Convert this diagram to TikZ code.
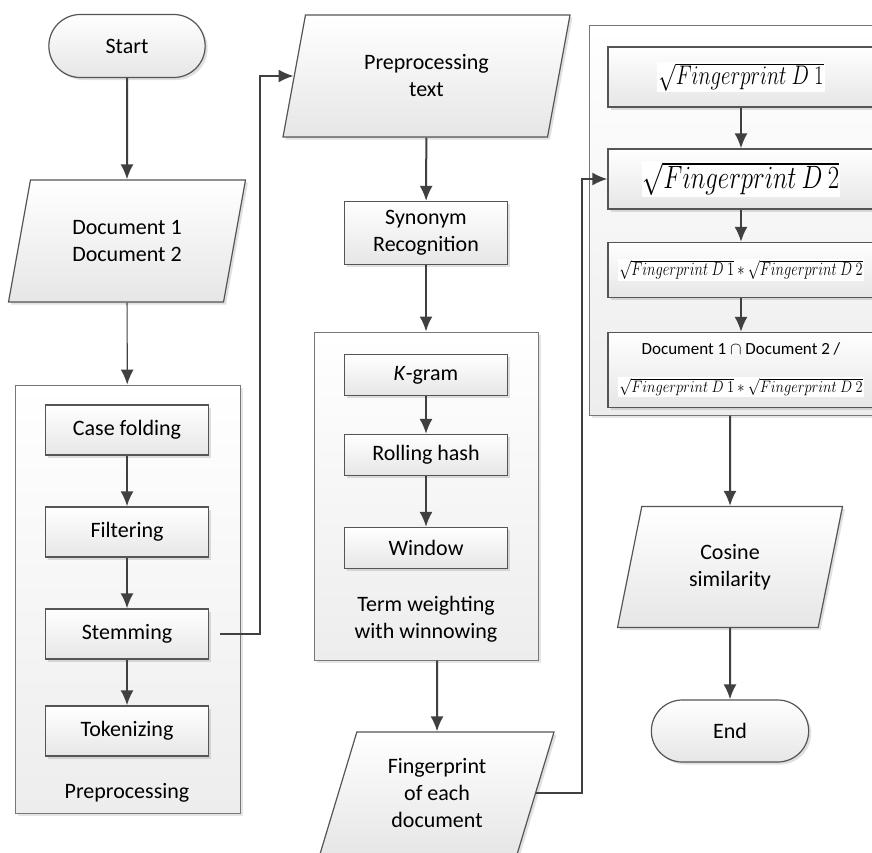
\documentclass[tikz,border=0pt]{standalone}
\usepackage[no-math]{fontspec}
\setmainfont{Carlito}
\usetikzlibrary{%
    arrows.meta,
    positioning,
    shapes.geometric,
    shapes.misc,
    shadows
}
\definecolor{linegray}{HTML}{404040}
\definecolor{boxline}{HTML}{555555}
\definecolor{boxfill}{HTML}{E6E6E6}
\definecolor{groupline}{HTML}{777777}
\definecolor{groupfill}{HTML}{EDEDED}
\setlength{\fboxsep}{1pt}
\newcommand{\fpterm}[1]{\colorbox{white}{\scalebox{1}[1.3]{$\sqrt{Fingerprint\ D\ #1}$}}}
\newcommand{\fpprod}[1][1.3]{\colorbox{white}{\scalebox{1}[#1]{$\sqrt{Fingerprint\ D\ 1}*\sqrt{Fingerprint\ D\ 2}$}}}
\tikzset{
    headarrow/.style = {-{Latex[length=15pt,width=13pt]}, draw=linegray, line width=2pt},
    shaded/.style = {draw=boxline, line width=1.2pt, top color=white, bottom color=boxfill,
        drop shadow={shadow xshift=2.5pt, shadow yshift=-2.5pt, fill=black, opacity=.12}},
    flowbox/.style = {shaded, rectangle, minimum width=163pt, inner sep=0pt, align=center},
    iobox/.style = {shaded, trapezium, trapezium left angle=62, trapezium right angle=118,
        trapezium stretches body, minimum height=122pt, inner sep=0pt, align=center},
    termbox/.style = {shaded, rounded rectangle, minimum width=163pt, minimum height=63pt},
    groupbox/.style = {draw=groupline, line width=1pt, top color=white, bottom color=groupfill,
        drop shadow={shadow xshift=2.5pt, shadow yshift=-2.5pt, fill=black, opacity=.10}},
    mathbox/.style = {flowbox, minimum width=266pt}
}

\begin{document}
\begin{tikzpicture}[x=1pt, y=-1pt, font=\fontsize{22}{27}\selectfont]
    \useasboundingbox (0,0) rectangle (872,852);

    % groups
    \node[groupbox, minimum width=225pt, minimum height=428pt] (prepgroup) at (127.5,599) {};
    \node[groupbox, minimum width=224pt, minimum height=328pt] (termgroup) at (426,496) {};
    \node[groupbox, minimum width=304pt, minimum height=390pt] (simgroup) at (741,220) {};

    \node[termbox] (start) at (127,46) {Start};
    \node[iobox, minimum width=237pt] (docs) at (127,241) {Document 1\\Document 2};
    \foreach \Name/\Y/\Text in {%
        fold/430/Case folding,
        filter/532/Filtering,
        stem/634/Stemming,
        token/731/Tokenizing}
            \node[flowbox, minimum height=50pt] (\Name) at (127,\Y) {\Text};
    \node (preplabel) at (127,793) {Preprocessing};

    \node[iobox, minimum width=287pt] (pretext) at (426.5,76) {Preprocessing\\text};
    \node[flowbox, minimum height=63pt] (synonym) at (426,233) {Synonym\\Recognition};
    \foreach \Name/\Y/\Text in {%
        kgram/375/{\textit{K}-gram},
        hash/455/Rolling hash,
        window/548/Window}
            \node[flowbox, minimum height=41pt] (\Name) at (426,\Y) {\Text};
    \node[align=center] (termlabel) at (426,619) {Term weighting\\with winnowing};
    \node[iobox, minimum width=234pt] (finger) at (437,793) {Fingerprint\\of each\\document};

    \node[mathbox, minimum height=60pt, font=\fontsize{22}{26}\selectfont] (rootone) at (741,77) {\fpterm{1}};
    \node[mathbox, minimum height=60pt, font=\fontsize{23}{27}\selectfont] (roottwo) at (741,179) {\fpterm{2}};
    \node[mathbox, minimum height=55pt, font=\fontsize{15}{18}\selectfont] (product) at (741,270) {\fpprod};
    \node[mathbox, minimum height=75pt] (ratio) at (741,370) {};
    \node[font=\fontsize{17}{21}\selectfont, inner sep=0pt] (ratiotop) at (741,349) {Document 1 $\cap$ Document 2 /};
    \node[font=\fontsize{15}{18}\selectfont, inner sep=0pt] (ratiobottom) at (741,387) {\fpprod[1.15]};
    \node[iobox, minimum width=225pt, minimum height=121pt] (cosine) at (730,567) {Cosine\\similarity};
    \node[termbox, minimum width=164pt, minimum height=62pt] (finish) at (730,731) {End};

    \foreach \Source/\Target in {%
        start/docs,
        fold/filter,
        filter/stem,
        stem/token,
        pretext/synonym,
        synonym/termgroup,
        kgram/hash,
        hash/window,
        rootone/roottwo,
        roottwo/product,
        product/ratio,
        cosine/finish}
            \draw[headarrow] (\Source) -- (\Target);
    \draw[headarrow, line width=1.2pt] (docs) -- (prepgroup);
    \draw[headarrow] (finger.north |- termgroup.south) -- (finger);
    \draw[headarrow] (cosine.north |- simgroup.south) -- (cosine);
    \draw[headarrow] ([xshift=11pt]stem.east) -- ++(40,0) |- (pretext.left side);
    \draw[headarrow] (finger.right side) -- ++(46,0) |- (roottwo.west);
\end{tikzpicture}
\end{document}
